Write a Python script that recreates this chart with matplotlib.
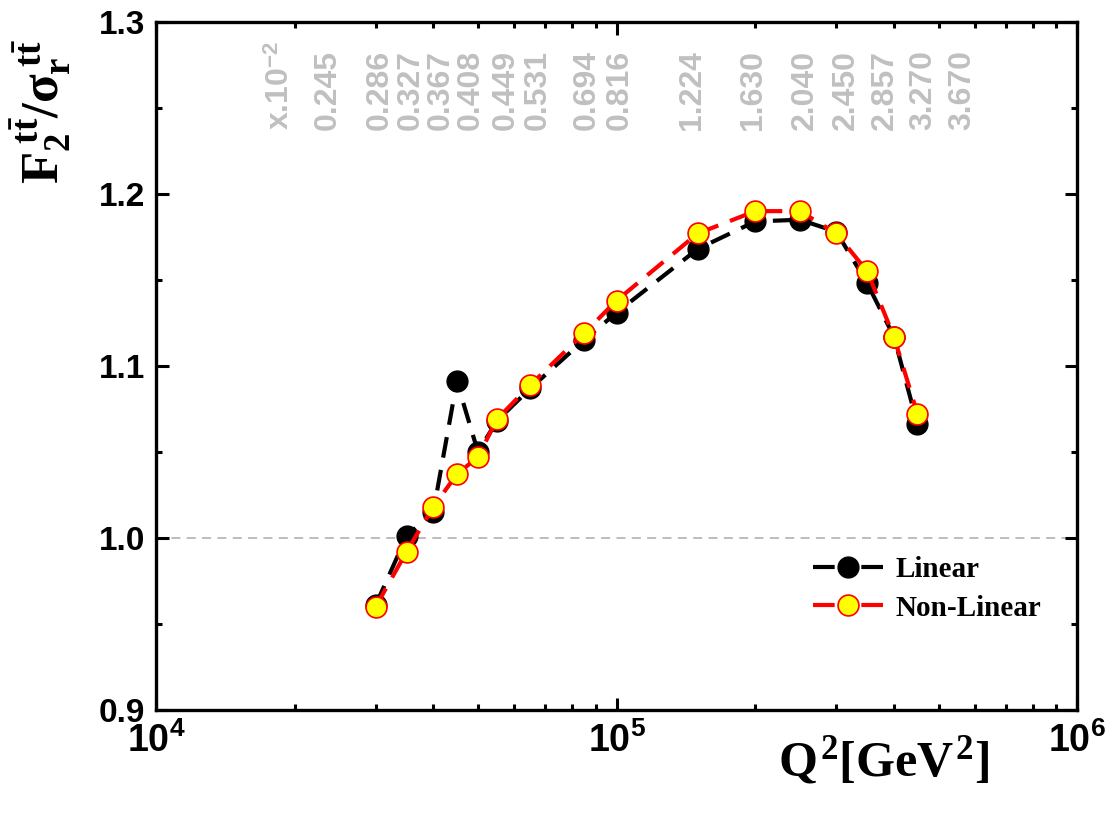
import numpy as np
import matplotlib
matplotlib.use("Agg")
import matplotlib.pyplot as plt
import matplotlib.ticker as mticker
import matplotlib.transforms as mtransforms

# mathtext: bold Times-like for labels, bold Arial-like via \mathsf for ticks
plt.rcParams["mathtext.fontset"] = "custom"
plt.rcParams["mathtext.rm"] = "Liberation Serif:bold"
plt.rcParams["mathtext.it"] = "Liberation Serif:bold"
plt.rcParams["mathtext.bf"] = "Liberation Serif:bold"
plt.rcParams["mathtext.sf"] = "Liberation Sans:bold"

# Data
q2 = [30000, 35000, 40000, 45000, 50000, 55000, 65000, 85000, 100000,
      150000, 200000, 250000, 300000, 350000, 400000, 450000]
ratio_linear = [0.961, 1.001, 1.015, 1.091, 1.050, 1.068, 1.087, 1.115, 1.131,
                1.168, 1.184, 1.185, 1.178, 1.148, 1.117, 1.066]
ratio_nonlinear = [0.960, 0.992, 1.018, 1.037, 1.047, 1.069, 1.089, 1.119, 1.138,
                   1.177, 1.190, 1.190, 1.177, 1.155, 1.117, 1.072]

# Bjorken-x labels along the top (x 10^-2) and where they sit along Q^2
x_labels = ["0.245", "0.286", "0.327", "0.367", "0.408", "0.449", "0.531",
            "0.694", "0.816", "1.224", "1.630", "2.040", "2.450", "2.857",
            "3.270", "3.670"]
x_label_pos = [23640, 30640, 35790, 41580, 48310, 57540, 67530, 86280, 101800,
               145900, 197900, 256700, 315100, 383000, 463000, 562700]
x_unit_pos = 18670

fig = plt.figure(figsize=(11.14, 8.14), dpi=100)
ax = fig.add_axes([0.140, 0.128, 0.827, 0.845])

ax.axhline(1.0, color="#b8b8b8", lw=1.3, ls=(0, (5, 3.5)), zorder=1)

ax.plot(q2, ratio_linear, color="black", lw=3, ls=(0, (5, 3)),
        marker="o", ms=15, mfc="black", mec="black", zorder=3, label="Linear")
ax.plot(q2, ratio_nonlinear, color="red", lw=3, ls=(0, (5, 3)),
        marker="o", ms=15, mfc="#ffff00", mec="red", mew=1.2, zorder=4,
        label="Non-Linear")

ax.set_xscale("log")
ax.set_xlim(1e4, 1e6)
ax.set_ylim(0.9, 1.3)
ax.yaxis.set_major_locator(mticker.MultipleLocator(0.1))
ax.yaxis.set_minor_locator(mticker.MultipleLocator(0.05))
ax.yaxis.set_major_formatter(mticker.FormatStrFormatter("%.1f"))
ax.xaxis.set_major_locator(mticker.LogLocator(base=10, numticks=5))
ax.xaxis.set_major_formatter(
    mticker.FuncFormatter(lambda v, p: r"$\mathsf{10^{%d}}$" % round(np.log10(v))))

for s in ax.spines.values():
    s.set_linewidth(2.4)
ax.tick_params(which="both", direction="in", top=True, right=True, width=2.2)
ax.tick_params(which="major", length=9)
ax.tick_params(which="minor", length=4.5)
ax.tick_params(axis="y", labelsize=24, pad=8)
ax.tick_params(axis="x", labelsize=27, pad=9)
for lab in ax.get_yticklabels():
    lab.set_fontfamily("Liberation Sans")
    lab.set_fontweight("bold")

# top x-value labels
trans = mtransforms.blended_transform_factory(ax.transData, ax.transAxes)
ax.text(x_unit_pos, 0.843, r"x.10$^{\mathsf{-2}}$", transform=trans, rotation=90,
        ha="center", va="bottom", color="#c0c0c0", fontsize=23,
        fontfamily="Liberation Sans", fontweight="bold")
for xv, lab in zip(x_label_pos, x_labels):
    ax.text(xv, 0.843, lab, transform=trans, rotation=90, ha="center",
            va="bottom", color="#c0c0c0", fontsize=23,
            fontfamily="Liberation Sans", fontweight="bold")

ax.set_ylabel(r"$F_2^{\,t\bar{t}}/\sigma_r^{\,t\bar{t}}$", fontsize=38)
ax.yaxis.set_label_coords(-0.09, 0.87)
ax.set_xlabel(r"$Q^2[GeV^2]$", fontsize=36, va="top")
ax.xaxis.set_label_coords(0.79, -0.035)

leg = ax.legend(loc="upper left", bbox_to_anchor=(0.697, 0.245), frameon=False,
                borderpad=0, handlelength=2.4, handletextpad=0.45,
                labelspacing=0.4, prop={"family": "Liberation Serif",
                                        "weight": "bold", "size": 21})
# symmetric dash on each side of the legend marker
for ln in leg.get_lines():
    ln.set_linestyle((0, (5.2, 6.4)))

fig.savefig("out.png", dpi=100)
